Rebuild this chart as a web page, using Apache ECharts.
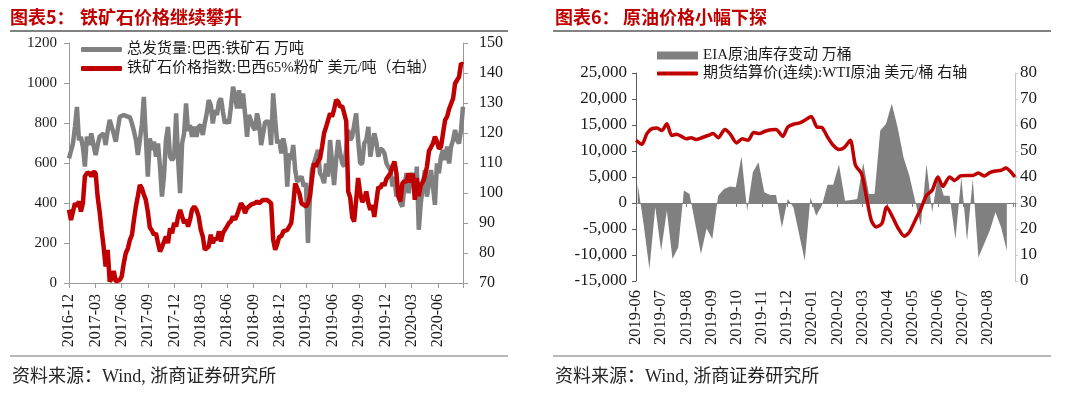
<!DOCTYPE html>
<html><head><meta charset="utf-8">
<script src="https://cdn.jsdelivr.net/npm/echarts@6/dist/echarts.min.js"></script>
<style>html,body{margin:0;padding:0;background:#fff}#c{width:1080px;height:393px}</style>
</head><body><div id="c"></div>
<script>
// ---------------- Left chart: iron ore (weekly from 2016-12-01) ----------------
const ironStart = [2016, 11, 1];          // year, month(0-based), day
const ironTickLabels = ['2016-12','2017-03','2017-06','2017-09','2017-12','2018-03','2018-06','2018-09','2018-12','2019-03','2019-06','2019-09','2019-12','2020-03','2020-06'];
const shipVolume = [623,660,698,780,880,715,730,680,582,732,690,748,690,640,690,732,740,748,690,760,
 815,781,745,707,770,831,835,840,835,832,828,798,760,715,640,715,790,931,923,532,
 723,665,707,632,698,582,432,532,715,781,632,615,632,848,615,449,698,748,898,760,
 790,731,781,731,781,790,740,800,848,914,890,798,864,840,906,923,856,798,815,798,
 881,981,931,873,964,873,948,848,731,840,840,781,765,848,798,690,748,806,806,806,
 690,948,815,698,715,648,723,673,482,648,615,690,565,507,520,532,482,499,200,432,
 565,598,630,665,549,532,499,598,532,715,715,490,615,715,648,598,582,670,765,715,
 731,790,848,715,598,598,698,715,781,632,632,748,707,632,673,665,648,598,580,565,
 482,532,432,482,399,382,482,549,449,532,549,449,582,266,399,482,565,432,499,565,
 482,391,598,549,632,665,615,682,598,682,715,765,715,698,765,881];
const orePrice = [94.4,91.0,90.5,96.6,95.5,97.2,93.8,96.6,105.5,106.6,106.8,105.5,107.1,106.6,98.8,93.8,87.7,82.2,75.5,81.0,
 70.5,71.5,74.0,70.5,70.0,71.0,72.2,76.6,80.0,81.5,84.4,86.0,91.0,95.5,99.0,102.7,101.6,99.5,97.7,93.8,
 88.5,87.5,86.1,86.6,83.3,80.5,82.0,82.2,85.5,83.3,88.2,86.6,90.0,88.8,92.2,94.4,92.2,90.0,91.1,88.8,
 91.1,94.4,95.5,94.4,92.2,87.7,85.5,81.1,80.5,82.2,86.1,83.3,84.9,84.4,87.2,83.8,86.6,87.2,88.8,90.0,
 90.6,92.2,91.1,92.7,93.3,96.6,95.5,93.3,95.0,94.4,96.1,96.6,96.6,97.2,96.6,97.2,97.7,98.3,97.7,98.3,
 96.6,84.5,81.1,83.0,85.5,85.5,87.2,87.7,87.7,88.8,90.0,96.0,103.2,101.6,99.9,96.5,96.1,95.5,96.6,99.0,
 104.5,109.9,108.8,110.5,111.5,115.4,120.0,122.0,124.3,126.5,125.5,127.8,131.0,130.5,128.7,129.0,129.3,124.0,100.5,98.5,
 92.0,90.5,97.5,105.0,100.0,97.0,98.0,100.5,96.6,94.4,96.0,92.0,92.0,102.0,101.6,103.2,102.5,104.7,105.2,106.6,
 108.8,110.5,106.6,98.8,97.2,103.2,104.0,103.7,106.6,103.5,106.5,97.7,105.0,99.0,102.6,103.7,105.5,108.8,114.0,114.3,
 116.5,118.8,117.2,114.8,115.4,119.9,124.3,125.5,128.0,128.5,131.5,136.5,136.0,138.7,143.2,142.8];

// ---------------- Right chart: crude oil ----------------
const oilBase = [2019, 5, 1];
const oilTickLabels = ['2019-06','2019-07','2019-08','2019-09','2019-10','2019-11','2019-12','2020-01','2020-02','2020-03','2020-04','2020-05','2020-06','2020-07','2020-08'];
const eiaStart = [2019, 5, 3];            // weekly
const eiaChange = [3660,-4000,-12700,-830,-9180,-1480,-10790,-8540,2380,1730,
 -4000,-9820,-4880,-6930,1410,2700,3150,3020,8920,-1480,
 5900,7830,2050,1540,1540,-4690,770,-830,-5970,-11110,
 1090,-2440,-510,3530,3530,7380,450,580,770,7700,
 1730,1730,13930,15200,19070,14570,8800,5260,450,-4370,
 7510,-1800,5260,1410,1410,-6930,4940,-7250,4620,-10460,
 -7900,-5300,-1800,-4700,-9200];
const wtiDay = [0,7,13,19,25,31,37,43,49,55,61,67,73,80,88,94,100,108,114,122,
 129,136,143,150,157,164,170,178,184,191,199,205,213,220,226,233,240,247,253,260,
 266,273,279,285,291,298,304,311,318,325,331,338,345,352,359,366,372,380,386,393,
 400,408,415,422,429,436,443,449,455,460];
const wtiPrice = [54.1,52.6,56.7,58.6,58.8,57.9,60.5,56.0,56.4,55.6,54.7,55.1,54.4,55.1,56.0,56.7,55.1,58.3,56.7,53.1,
 54.7,54.1,57.1,56.7,57.6,58.2,58.3,55.6,59.2,60.3,60.8,61.8,63.3,59.2,59.0,55.4,52.2,50.6,51.3,54.1,
 44.5,41.3,32.3,23.3,20.8,22.1,28.5,24.6,20.1,17.2,18.8,23.3,27.8,32.9,34.9,40.0,36.4,40.0,38.7,40.4,
 40.6,40.6,41.5,40.4,41.7,42.3,42.6,43.5,41.9,40.0];

// ---------------- helpers ----------------
function mkDate(b, addDays) { return new Date(Date.UTC(b[0], b[1], b[2] + addDays)); }
function monthOffset(base, d) {
  const y = d.getUTCFullYear(), m = d.getUTCMonth(), day = d.getUTCDate();
  const dim = new Date(Date.UTC(y, m + 1, 0)).getUTCDate();
  return (y - base[0]) * 12 + (m - base[1]) + (day - 1) / dim;
}
const ironBase = [2016, 11];
const ironX = shipVolume.map((_, i) => monthOffset(ironBase, mkDate(ironStart, 7 * i)));
const shipData = shipVolume.map((v, i) => [ironX[i], v]);
const priceData = orePrice.map((v, i) => [ironX[i], v]);
const ironMax = ironX[ironX.length - 1];

const eiaData = eiaChange.map((v, i) => [monthOffset(oilBase, mkDate(eiaStart, 7 * i)), v]);
const wtiData = wtiPrice.map((v, i) => [monthOffset(oilBase, mkDate(oilBase, wtiDay[i])), v]);
const oilMax = wtiData[wtiData.length - 1][0];

const FONT = '"Liberation Serif","Noto Sans CJK SC",serif';
const CJK = '"Noto Sans CJK SC",sans-serif';
const TXT = '#1a1a1a';
const GRAY = '#808080';
const RED = '#C00000';
const AX = '#9a9a9a';

function tickFmt(labels, step) {
  return v => { const q = v / step, i = Math.round(q); return Math.abs(q - i) < 1e-6 ? (labels[i] || '') : ''; };
}
const yLbl = (margin, size) => ({ color: TXT, fontFamily: FONT, fontSize: size || 15, margin, formatter: v => String(v) });

const chart = echarts.init(document.getElementById('c'), null, { renderer: 'canvas' });
chart.setOption({
  animation: false,
  backgroundColor: '#fff',
  grid: [
    { left: 69, top: 43, width: 394, height: 240 },
    { left: 636, top: 73, width: 379, height: 208 }
  ],
  xAxis: [
    { gridIndex: 0, type: 'value', min: 0, max: ironMax, interval: 3, position: 'bottom',
      axisLine: { show: true, onZero: false, lineStyle: { color: AX, width: 1 } },
      axisTick: { show: true, length: 5, lineStyle: { color: AX } },
      splitLine: { show: false },
      axisLabel: { rotate: 90, margin: 11, color: TXT, fontFamily: FONT, fontSize: 16, formatter: tickFmt(ironTickLabels, 3) } },
    { gridIndex: 1, type: 'value', min: 0, max: oilMax, interval: 1, position: 'bottom',
      axisLine: { show: true, onZero: true, onZeroAxisIndex: 2, lineStyle: { color: GRAY, width: 1 } },
      axisTick: { show: true, length: 4, lineStyle: { color: GRAY } },
      splitLine: { show: false }, axisLabel: { show: false } },
    { gridIndex: 1, type: 'value', min: 0, max: oilMax, interval: 1, position: 'bottom',
      axisLine: { show: false, onZero: false }, axisTick: { show: false }, splitLine: { show: false },
      axisLabel: { rotate: 90, margin: 9, color: TXT, fontFamily: FONT, fontSize: 16.5, formatter: tickFmt(oilTickLabels, 1) } }
  ],
  yAxis: [
    { gridIndex: 0, type: 'value', min: 0, max: 1200, interval: 200, position: 'left',
      axisLine: { show: true, onZero: false, lineStyle: { color: AX } }, axisTick: { show: true, length: 5, lineStyle: { color: AX } },
      splitLine: { show: false }, axisLabel: yLbl(12, 15) },
    { gridIndex: 0, type: 'value', min: 70, max: 150, interval: 10, position: 'right',
      axisLine: { show: true, onZero: false, lineStyle: { color: AX } }, axisTick: { show: true, length: 5, lineStyle: { color: AX } },
      splitLine: { show: false }, axisLabel: yLbl(16, 16) },
    { gridIndex: 1, type: 'value', min: -15000, max: 25000, interval: 5000, position: 'left',
      axisLine: { show: true, onZero: false, lineStyle: { color: '#595959' } }, axisTick: { show: true, length: 4, lineStyle: { color: '#595959' } },
      splitLine: { show: false }, axisLabel: Object.assign(yLbl(9, 17), { formatter: v => v.toLocaleString('en-US') }) },
    { gridIndex: 1, type: 'value', min: 0, max: 80, interval: 10, position: 'right',
      axisLine: { show: true, onZero: false, lineStyle: { color: '#c8c8c8' } }, axisTick: { show: true, length: 3, lineStyle: { color: '#c8c8c8' } },
      splitLine: { show: false }, axisLabel: yLbl(5, 17) }
  ],
  legend: [
    { orient: 'vertical', left: 76, top: 37, itemWidth: 41, itemHeight: 5, itemGap: 4, icon: 'roundRect',
      textStyle: { color: TXT, fontFamily: FONT, fontSize: 15, lineHeight: 15 },
      data: ['总发货量:巴西:铁矿石 万吨', '铁矿石价格指数:巴西65%粉矿 美元/吨（右轴）'] },
    { orient: 'vertical', left: 652, top: 43, itemWidth: 41, itemHeight: 8, icon: 'rect',
      textStyle: { color: TXT, fontFamily: FONT, fontSize: 15, lineHeight: 15 },
      data: ['EIA原油库存变动 万桶'] },
    { orient: 'vertical', left: 652, top: 61, itemWidth: 41, itemHeight: 4, icon: 'roundRect',
      textStyle: { color: TXT, fontFamily: FONT, fontSize: 15, lineHeight: 15 },
      data: ['期货结算价(连续):WTI原油 美元/桶 右轴'] }
  ],
  series: [
    { name: '总发货量:巴西:铁矿石 万吨', type: 'line', xAxisIndex: 0, yAxisIndex: 0, data: shipData,
      showSymbol: false, symbol: 'none', lineStyle: { color: GRAY, width: 4.5 }, itemStyle: { color: GRAY } },
    { name: '铁矿石价格指数:巴西65%粉矿 美元/吨（右轴）', type: 'line', xAxisIndex: 0, yAxisIndex: 1, data: priceData,
      showSymbol: false, symbol: 'none', lineStyle: { color: RED, width: 4.5 }, itemStyle: { color: RED } },
    { name: 'EIA原油库存变动 万桶', type: 'line', xAxisIndex: 1, yAxisIndex: 2, data: eiaData,
      showSymbol: false, symbol: 'none', lineStyle: { width: 0, color: GRAY }, itemStyle: { color: GRAY },
      areaStyle: { color: GRAY, opacity: 1 } },
    { name: '期货结算价(连续):WTI原油 美元/桶 右轴', type: 'line', xAxisIndex: 1, yAxisIndex: 3, data: wtiData,
      showSymbol: false, symbol: 'none', smooth: 0.25, lineStyle: { color: RED, width: 3.5 }, itemStyle: { color: RED } }
  ],
  graphic: [
    { type: 'text', x: 10, y: 17, style: { text: '图表5：', fill: RED, font: 'bold 18px ' + CJK, verticalAlign: 'middle', textVerticalAlign: 'middle' } },
    { type: 'text', x: 80, y: 17, style: { text: '铁矿石价格继续攀升', fill: RED, font: 'bold 18px ' + CJK, verticalAlign: 'middle', textVerticalAlign: 'middle' } },
    { type: 'text', x: 555, y: 17, style: { text: '图表6：', fill: RED, font: 'bold 18px ' + CJK, verticalAlign: 'middle', textVerticalAlign: 'middle' } },
    { type: 'text', x: 623, y: 17, style: { text: '原油价格小幅下探', fill: RED, font: 'bold 18px ' + CJK, verticalAlign: 'middle', textVerticalAlign: 'middle' } },
    { type: 'line', shape: { x1: 10, y1: 31, x2: 508, y2: 31 }, style: { stroke: '#595959', lineWidth: 1.5 } },
    { type: 'line', shape: { x1: 553, y1: 31, x2: 1051, y2: 31 }, style: { stroke: '#595959', lineWidth: 1.5 } },
    { type: 'line', shape: { x1: 10, y1: 356, x2: 508, y2: 356 }, style: { stroke: '#a0a0a0', lineWidth: 1.5 } },
    { type: 'line', shape: { x1: 553, y1: 356, x2: 1051, y2: 356 }, style: { stroke: '#a0a0a0', lineWidth: 1.5 } },
    { type: 'text', x: 12, y: 377, style: { text: '资料来源：Wind, 浙商证券研究所', fill: '#262626', font: '18px ' + FONT, verticalAlign: 'middle', textVerticalAlign: 'middle' } },
    { type: 'text', x: 555, y: 377, style: { text: '资料来源：Wind, 浙商证券研究所', fill: '#262626', font: '18px ' + FONT, verticalAlign: 'middle', textVerticalAlign: 'middle' } }
  ]
});
</script>
</body></html>
